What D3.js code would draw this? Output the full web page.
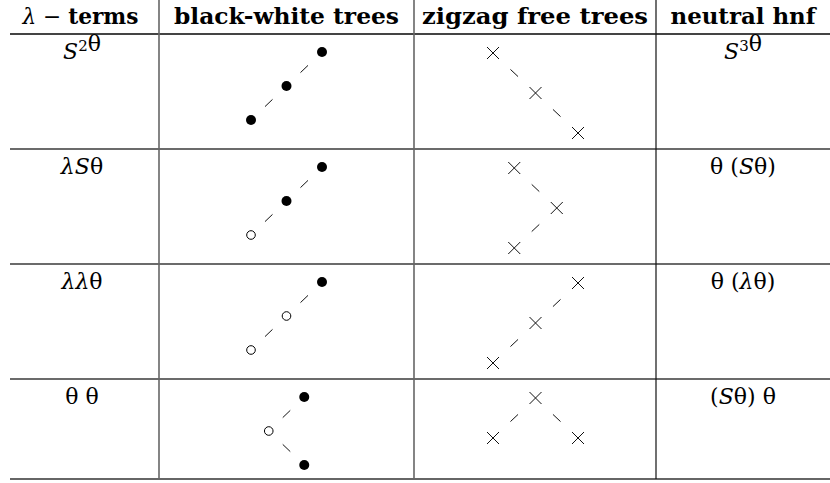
<!DOCTYPE html>
<html><head><meta charset="utf-8">
<script src="https://cdn.jsdelivr.net/npm/d3@7"></script>
<style>body{margin:0;background:#fff}svg{display:block}</style>
</head><body>
<svg id="c" width="830" height="483"></svg>
<script>
// ---- data ----
const headers = ["λ − terms", "black-white trees", "zigzag free trees", "neutral hnf"];
const terms = ["S²θ", "λSθ", "λλθ", "θ θ"];
const hnfs = ["S³θ", "θ (Sθ)", "θ (λθ)", "(Sθ) θ"];
// black-white trees: grid position (gx, gy) and filled flag, listed as chains
const bwTrees = [
  [{gx:-1, gy:2, filled:true}, {gx:0, gy:1, filled:true}, {gx:1, gy:0, filled:true}],
  [{gx:-1, gy:2, filled:false}, {gx:0, gy:1, filled:true}, {gx:1, gy:0, filled:true}],
  [{gx:-1, gy:2, filled:false}, {gx:0, gy:1, filled:false}, {gx:1, gy:0, filled:true}],
  [{gx:0.5, gy:0, filled:true}, {gx:-0.5, gy:1, filled:false}, {gx:0.5, gy:2, filled:true}]
];
// zigzag free trees: grid positions, listed as chains
const zzTrees = [
  [{gx:-1, gy:0}, {gx:0, gy:1}, {gx:1, gy:2}],
  [{gx:-0.5, gy:0}, {gx:0.5, gy:1}, {gx:-0.5, gy:2}],
  [{gx:1, gy:0}, {gx:0, gy:1}, {gx:-1, gy:2}],
  [{gx:-1, gy:1}, {gx:0, gy:0}, {gx:1, gy:1}]
];

// ---- layout ----
const W = 830, H = 483;
const colEdges = [10, 159, 414, 656, 830];
const headerBottom = 34, tableBottom = 479;
const svg = d3.select("#c");

const rowY = d3.scaleBand().domain(d3.range(terms.length)).range([headerBottom, headerBottom + 115 * terms.length]).paddingInner(0);
const colCenter = i => (colEdges[i] + colEdges[i + 1]) / 2;

const serif = "'DejaVu Serif', 'Liberation Serif', serif";

// horizontal rules
svg.append("line").attr("x1", colEdges[0]).attr("x2", W).attr("y1", headerBottom).attr("y2", headerBottom)
  .attr("stroke", "#444").attr("stroke-width", 1.8);
d3.range(1, terms.length).forEach(i => {
  svg.append("line").attr("x1", colEdges[0]).attr("x2", W).attr("y1", rowY(i)).attr("y2", rowY(i))
    .attr("stroke", "#3a3a3a").attr("stroke-width", 1.5);
});
svg.append("line").attr("x1", colEdges[0]).attr("x2", W).attr("y1", tableBottom).attr("y2", tableBottom)
  .attr("stroke", "#666").attr("stroke-width", 2);
// vertical rules
[[1, "#666", 1.6], [2, "#666", 1.6], [3, "#111", 1.2]].forEach(([i, c, w]) => {
  svg.append("line").attr("x1", colEdges[i]).attr("x2", colEdges[i]).attr("y1", 0).attr("y2", tableBottom)
    .attr("stroke", c).attr("stroke-width", w);
});

// headers
const headerWidths = [116, 225, 226, 145];
headers.forEach((h, i) => {
  const t = svg.append("text").attr("x", colCenter(i) - (i === 0 ? 4 : 0)).attr("y", 24).attr("text-anchor", "middle")
    .attr("font-family", serif).attr("font-weight", "bold").attr("font-size", 22)
    .attr("textLength", headerWidths[i]).attr("lengthAdjust", "spacingAndGlyphs");
  if (h.startsWith("λ")) {
    t.append("tspan").attr("font-weight", "normal").attr("font-style", "italic").text("λ ");
    t.append("tspan").attr("font-weight", "normal").text("− ");
    t.append("tspan").text(h.slice(4));
  } else {
    t.text(h);
  }
});

// math-like text renderer
function mathText(sel, str) {
  for (const ch of str) {
    if (ch === "²" || ch === "³") {
      sel.append("tspan").attr("font-size", 15).attr("dy", -8).text(ch === "²" ? "2" : "3");
      sel.append("tspan").attr("dy", 8).text("");
    } else if (ch === "S" || ch === "λ") {
      sel.append("tspan").attr("font-style", "italic").text(ch);
    } else {
      sel.append("tspan").text(ch);
    }
  }
}
terms.forEach((t, i) => {
  const tx = svg.append("text").attr("x", 82).attr("y", rowY(i) + 25).attr("text-anchor", "middle")
    .attr("font-family", serif).attr("font-size", 22);
  mathText(tx, t);
});
hnfs.forEach((t, i) => {
  const tx = svg.append("text").attr("x", 743).attr("y", rowY(i) + 25).attr("text-anchor", "middle")
    .attr("font-family", serif).attr("font-size", 22);
  mathText(tx, t);
});

// tree scales
const bwX = d3.scaleLinear().domain([-1, 1]).range([251, 322]);
const bwY = d3.scaleLinear().domain([0, 2]).range([18, 86]);
const zzX = d3.scaleLinear().domain([-1, 1]).range([493, 578]);
const zzY = d3.scaleLinear().domain([0, 2]).range([19, 99]);

function drawDashes(g, pts) {
  for (let k = 0; k < pts.length - 1; k++) {
    const [x1, y1] = pts[k], [x2, y2] = pts[k + 1];
    const mx = (x1 + x2) / 2, my = (y1 + y2) / 2;
    const len = Math.hypot(x2 - x1, y2 - y1), half = 5.2;
    const ux = (x2 - x1) / len, uy = (y2 - y1) / len;
    g.append("line").attr("x1", mx - ux * half).attr("y1", my - uy * half)
      .attr("x2", mx + ux * half).attr("y2", my + uy * half)
      .attr("stroke", "#111").attr("stroke-width", 1);
  }
}

bwTrees.forEach((tree, i) => {
  const g = svg.append("g").attr("transform", `translate(0,${rowY(i)})`);
  const pts = tree.map(n => [bwX(n.gx), bwY(n.gy)]);
  drawDashes(g, pts);
  g.selectAll("circle").data(tree).join("circle")
    .attr("cx", n => bwX(n.gx)).attr("cy", n => bwY(n.gy))
    .attr("r", n => n.filled ? 5 : 4.3)
    .attr("fill", n => n.filled ? "#000" : "#fff")
    .attr("stroke", "#000").attr("stroke-width", n => n.filled ? 0 : 1);
});

zzTrees.forEach((tree, i) => {
  const g = svg.append("g").attr("transform", `translate(0,${rowY(i)})`);
  const pts = tree.map(n => [zzX(n.gx), zzY(n.gy)]);
  drawDashes(g, pts);
  const s = 6;
  g.selectAll("path.cross").data(tree).join("path").attr("class", "cross")
    .attr("d", n => {
      const x = zzX(n.gx), y = zzY(n.gy);
      return `M${x - s},${y - s}L${x + s},${y + s}M${x - s},${y + s}L${x + s},${y - s}`;
    })
    .attr("stroke", "#111").attr("stroke-width", 1).attr("fill", "none");
});
</script>
</body></html>
